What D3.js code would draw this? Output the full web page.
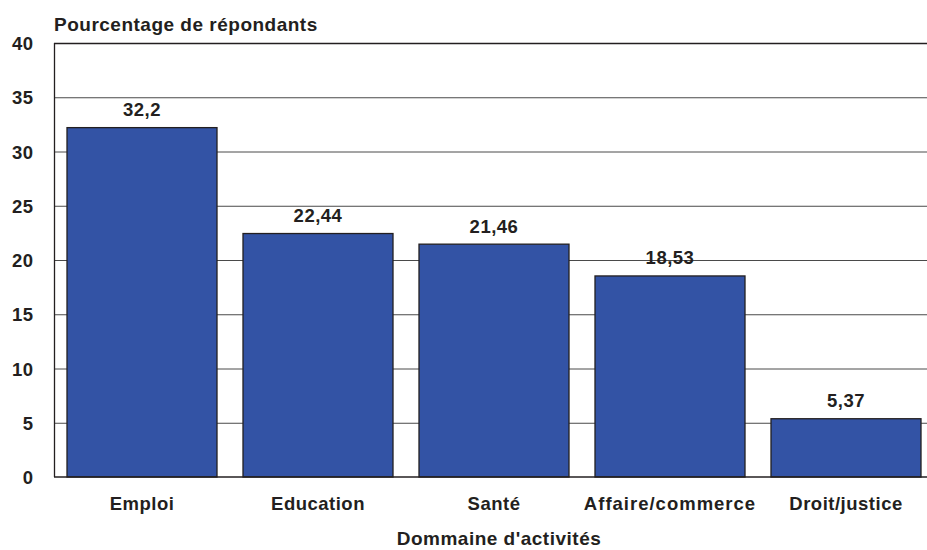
<!DOCTYPE html>
<html>
<head>
    <meta charset="UTF-8">
    <title>Domaine d'activités</title>
    <style>
        body { margin: 0; background: #fff; }
        svg { display: block; font-family: "Liberation Sans", Arial, sans-serif; }
        text { font-weight: bold; fill: #231f20; letter-spacing: 0.5px; }
    </style>
</head>
<body>
    <svg id="chart" width="927" height="550"></svg>
    <script src="https://cdnjs.cloudflare.com/ajax/libs/d3/7.8.5/d3.min.js"></script>
    <script>
        var categories = ["Emploi", "Education", "Santé", "Affaire/commerce", "Droit/justice"];
        var values = [32.2, 22.44, 21.46, 18.53, 5.37];
        var valueLabels = ["32,2", "22,44", "21,46", "18,53", "5,37"];
        var yTicks = [0, 5, 10, 15, 20, 25, 30, 35, 40];

        var svg = d3.select("#chart");
        var plotLeft = 54, plotRight = 934, plotTop = 43, plotBottom = 477;
        var fontSize = "18.5px";

        var x = d3.scaleBand().domain(categories).range([plotLeft, plotRight]).paddingInner(26 / 176).paddingOuter(13 / 176);
        var y = d3.scaleLinear().domain([0, 40]).range([plotBottom, plotTop]);

        // grid lines
        svg.append("g")
            .selectAll("line")
            .data(yTicks.filter(d => d > 0 && d < 40))
            .join("line")
            .attr("x1", plotLeft).attr("x2", plotRight)
            .attr("y1", d => y(d) + 0.5).attr("y2", d => y(d) + 0.5)
            .attr("stroke", "#4a4a4a")
            .attr("stroke-width", 1);

        // frame top + left
        svg.append("line").attr("x1", plotLeft).attr("x2", plotRight).attr("y1", plotTop + 0.5).attr("y2", plotTop + 0.5)
            .attr("stroke", "#231f20").attr("stroke-width", 1.3);
        svg.append("line").attr("x1", plotLeft + 0.5).attr("x2", plotLeft + 0.5).attr("y1", plotTop).attr("y2", plotBottom)
            .attr("stroke", "#231f20").attr("stroke-width", 1.3);

        // bars
        svg.append("g")
            .selectAll("rect")
            .data(values)
            .join("rect")
            .attr("x", (d, i) => x(categories[i]))
            .attr("width", x.bandwidth())
            .attr("y", d => y(d))
            .attr("height", d => y(0) - y(d))
            .attr("fill", "#3353a5")
            .attr("stroke", "#231f20")
            .attr("stroke-width", 1.3);

        svg.append("line").attr("x1", plotLeft).attr("x2", plotRight).attr("y1", plotBottom).attr("y2", plotBottom)
            .attr("stroke", "#231f20").attr("stroke-width", 1.5);

        // value labels
        svg.append("g")
            .selectAll("text")
            .data(values)
            .join("text")
            .attr("x", (d, i) => x(categories[i]) + x.bandwidth() / 2)
            .attr("y", d => y(d) - 11.5)
            .attr("text-anchor", "middle")
            .attr("font-size", fontSize)
            .text((d, i) => valueLabels[i]);

        // y axis labels
        var yAxis = d3.axisLeft(y).tickValues(yTicks).tickSize(0).tickPadding(20.5);
        var ya = svg.append("g").attr("transform", "translate(" + plotLeft + ",0)").call(yAxis);
        ya.select(".domain").remove();
        ya.selectAll("text").attr("font-size", fontSize).attr("font-family", "Liberation Sans, Arial, sans-serif")
            .attr("fill", "#231f20").style("font-weight", "bold").attr("dy", "0.36em");

        // x axis labels
        var xAxis = d3.axisBottom(x).tickSize(0).tickPadding(20);
        var xa = svg.append("g").attr("transform", "translate(0," + plotBottom + ")").call(xAxis);
        xa.select(".domain").remove();
        xa.selectAll("text").attr("font-size", fontSize).attr("font-family", "Liberation Sans, Arial, sans-serif")
            .attr("fill", "#231f20").style("font-weight", "bold");
        xa.selectAll("text").filter(d => d === "Affaire/commerce").style("letter-spacing", "1px");

        // titles
        svg.append("text").attr("x", plotLeft).attr("y", 30.5).attr("font-size", "19px").text("Pourcentage de répondants");
        svg.append("text").attr("x", 499).attr("y", 545).attr("text-anchor", "middle").attr("font-size", "19px")
            .text("Dommaine d'activités");
    </script>
</body>
</html>
